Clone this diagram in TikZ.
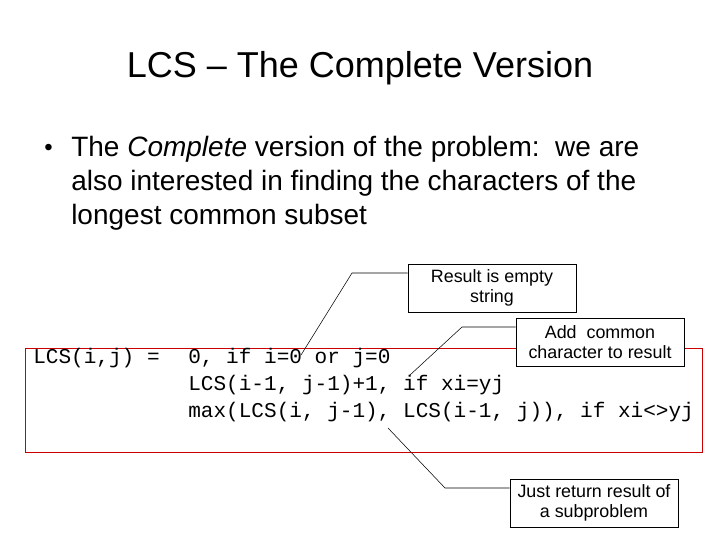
\documentclass[tikz,border=0pt]{standalone}
\usepackage{fontspec}
\setmainfont{Liberation Sans}
\newfontfamily\codefont{Liberation Mono}
\usetikzlibrary{positioning}
\begin{document}
\begin{tikzpicture}[x=0.75pt,y=-0.75pt,
  callout/.style={draw, fill=white, align=center, font=\fontsize{13.4}{15}\selectfont, inner sep=0pt, minimum width=168*0.75pt, minimum height=48*0.75pt},
  code/.style={font=\codefont\fontsize{15.8}{20.25}\selectfont, anchor=west, inner sep=0pt},
  leader/.style={draw, thin}]
\useasboundingbox (0,0) rectangle (720,540);
% title and bullet
\node (title) at (360,68) {\fontsize{27}{30}\selectfont LCS -- The Complete Version};
\node[anchor=west, inner sep=0pt] (dot) at (44,150) {\fontsize{18}{22}\selectfont •};
\node[anchor=north west, align=left, inner sep=0pt, font=\fontsize{21}{25.5}\selectfont] (bullet) at (71,136)
  {The \textit{Complete} version of the problem:\ \ we are\\ also interested in finding the characters of the\\ longest common subset};
% recurrence
\draw[red!80!black] (25,348) rectangle (702,452);
\node[code] (lhs) at (33,358) {LCS(i,j) =};
\node[code] (c1) at (188,358) {0, if i=0 or j=0};
\node[code] (c2) at (188,385) {LCS(i-1, j-1)+1, if xi=yj};
\node[code] (c3) at (188,412) {max(LCS(i, j-1), LCS(i-1, j)), if xi<>yj};
% callouts
\node[callout] (empty) at (492,288) {Result is empty\\string};
\node[callout] (add) at (600,342) {Add\ \ common\\character to result};
\node[callout] (sub) at (594,503) {Just return result of\\a subproblem};
\coordinate (e1) at (352,273); \coordinate (e2) at (301,355);
\coordinate (a1) at (462,327); \coordinate (a2) at (410,375);
\coordinate (s1) at (445,488); \coordinate (s2) at (388,428);
\draw[leader] (empty.west |- e1) -- (e1) -- (e2);
\draw[leader] (add.west |- a1) -- (a1) -- (a2);
\draw[leader] (sub.west |- s1) -- (s1) -- (s2);
\end{tikzpicture}
\end{document}
